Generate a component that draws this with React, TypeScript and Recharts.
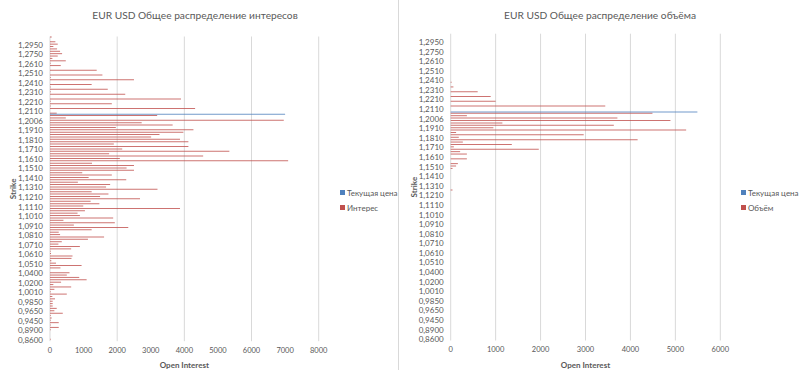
import React from "react";
import { Bar, BarChart, CartesianGrid, Legend, XAxis, YAxis } from "recharts";

// strikes from bottom (0,8600) to top; every 4th one is labelled
const strikes = [
  "0,8600", "0,8700", "0,8750", "0,8800",
  "0,8900", "0,9000", "0,9150", "0,9300",
  "0,9450", "0,9500", "0,9550", "0,9600",
  "0,9650", "0,9700", "0,9750", "0,9800",
  "0,9850", "0,9900", "0,9950", "1,0000",
  "1,0010", "1,0050", "1,0100", "1,0150",
  "1,0200", "1,0250", "1,0300", "1,0350",
  "1,0400", "1,0450", "1,0475", "1,0500",
  "1,0510", "1,0535", "1,0560", "1,0585",
  "1,0610", "1,0635", "1,0660", "1,0685",
  "1,0710", "1,0735", "1,0760", "1,0785",
  "1,0810", "1,0835", "1,0860", "1,0885",
  "1,0910", "1,0935", "1,0960", "1,0985",
  "1,1010", "1,1035", "1,1060", "1,1085",
  "1,1110", "1,1135", "1,1160", "1,1185",
  "1,1210", "1,1235", "1,1260", "1,1285",
  "1,1310", "1,1335", "1,1360", "1,1385",
  "1,1410", "1,1435", "1,1460", "1,1485",
  "1,1510", "1,1535", "1,1560", "1,1585",
  "1,1610", "1,1635", "1,1660", "1,1685",
  "1,1710", "1,1735", "1,1760", "1,1785",
  "1,1810", "1,1835", "1,1860", "1,1885",
  "1,1910", "1,1935", "1,1960", "1,1985",
  "1,2006", "1,2030", "1,2060", "1,2085",
  "1,2110", "1,2135", "1,2160", "1,2185",
  "1,2210", "1,2235", "1,2260", "1,2285",
  "1,2310", "1,2335", "1,2360", "1,2385",
  "1,2410", "1,2435", "1,2460", "1,2485",
  "1,2510", "1,2535", "1,2560", "1,2585",
  "1,2610", "1,2645", "1,2680", "1,2715",
  "1,2750", "1,2800", "1,2850", "1,2900",
  "1,2950", "1,3000", "1,3050", "1,3100",
];

const openInterest = [
  20, 0, 0, 0, 20, 260, 20, 260,
  20, 50, 20, 380, 130, 200, 80, 80,
  80, 150, 70, 500, 20, 130, 630, 100,
  330, 1090, 870, 500, 580, 0, 310, 940,
  180, 40, 640, 670, 30, 20, 630, 890,
  250, 350, 1130, 1610, 300, 260, 1240, 2330,
  710, 1930, 400, 1880, 890, 820, 1040, 3870,
  990, 1470, 1210, 2680, 1490, 1740, 1240, 3200,
  1670, 1790, 830, 2270, 1150, 1840, 960, 2500,
  2280, 2500, 1250, 7090, 2080, 4560, 1760, 5340,
  2150, 4120, 1900, 4120, 3870, 3010, 3260, 3970,
  4270, 1960, 3650, 2730, 6960, 470, 3190, 200,
  0, 4320, 20, 1840, 20, 3900, 0, 2240,
  20, 1720, 20, 1240, 0, 2500, 20, 1560,
  0, 1390, 0, 320, 20, 470, 70, 230,
  360, 300, 210, 100, 230, 160, 0, 50,
];

const volume = [
  0, 0, 0, 0, 0, 0, 0, 0,
  0, 0, 0, 0, 0, 0, 0, 0,
  0, 0, 0, 0, 0, 0, 0, 0,
  0, 0, 0, 0, 0, 0, 0, 0,
  0, 0, 0, 0, 0, 0, 0, 0,
  0, 0, 0, 0, 0, 0, 0, 0,
  0, 0, 0, 0, 0, 0, 0, 0,
  0, 0, 0, 0, 0, 0, 40, 0,
  0, 0, 0, 0, 0, 0, 0, 40,
  120, 160, 0, 360, 0, 360, 210, 1960,
  70, 1360, 270, 4160, 180, 2960, 120, 5240,
  950, 3630, 1150, 4890, 3710, 360, 4490, 0,
  0, 3440, 0, 1000, 0, 890, 0, 600,
  0, 60, 0, 20, 0, 0, 0, 0,
  0, 0, 0, 0, 0, 0, 0, 0,
  0, 0, 0, 0, 0, 0, 0, 0,
];

// current price marker (blue bar)
const currentStrike = "1,2085";
const currentBarLeft = 7000;
const currentBarRight = 5490;

const ticksLeft = [0, 1000, 2000, 3000, 4000, 5000, 6000, 7000, 8000];
const ticksRight = [0, 1000, 2000, 3000, 4000, 5000, 6000];

const RED = "#C0504D";
const BLUE = "#4F81BD";
const TEXT = "#595959";
const GRID = "#D9D9D9";
const FONT = "Lato, 'Open Sans', sans-serif";

function makeRows(values: number[], current: number) {
  return strikes.map((s, i) => ({
    strike: s,
    value: values[i],
    price: s === currentStrike ? current : 0,
  }));
}

function StrikeLabel({ viewBox, x0 }: any) {
  const y = viewBox.y + viewBox.height / 2;
  return (
    <text
      x={x0}
      y={y}
      transform={`rotate(-90 ${x0} ${y})`}
      textAnchor="middle"
      dominantBaseline="central"
      fontSize={8}
      fontWeight={700}
      fill={TEXT}
      fontFamily={FONT}
    >
      Strike
    </text>
  );
}

function Panel(props: any) {
  const { left, width, title, titleX, valueName, values, current, ticks, margin, yWidth, xHeight, legendPos, strikeX } = props;
  const rows = makeRows(values, current);
  const legendItems = [
    { name: "Текущая цена", color: BLUE },
    { name: valueName, color: RED },
  ];
  return (
    <div style={{ position: "absolute", left, top: 0, width, height: 370 }}>
      <div
        style={{
          position: "absolute",
          left: titleX - 150,
          top: 9,
          width: 300,
          textAlign: "center",
          fontSize: 10.2,
          color: TEXT,
          fontFamily: FONT,
          whiteSpace: "nowrap",
        }}
      >
        {title}
      </div>
      <BarChart
        width={width}
        height={370}
        data={rows}
        layout="vertical"
        margin={margin}
        barCategoryGap={0}
        barGap={0}
        style={{ fontFamily: FONT }}
      >
        <CartesianGrid horizontal={false} stroke={GRID} />
        <XAxis
          type="number"
          domain={[0, ticks[ticks.length - 1]]}
          ticks={ticks}
          axisLine={false}
          tickLine={false}
          tickSize={4}
          height={xHeight}
          tick={{ fontSize: 7.5, fill: TEXT }}
          label={{ value: "Open Interest", position: "insideBottom", offset: 2, fontSize: 8, fontWeight: 700, fill: TEXT }}
        />
        <YAxis
          type="category"
          dataKey="strike"
          reversed
          interval={3}
          width={yWidth}
          axisLine={false}
          tickLine={false}
          tickMargin={1}
          tick={{ fontSize: 8, fill: TEXT }}
          label={<StrikeLabel x0={strikeX} />}
        />
        <Bar dataKey="value" name={valueName} fill={RED} fillOpacity={0.8} isAnimationActive={false} />
        <Bar dataKey="price" name="Текущая цена" fill={BLUE} fillOpacity={0.8} isAnimationActive={false} />
        <Legend
          layout="vertical"
          align="center"
          verticalAlign="middle"
          wrapperStyle={{ left: legendPos.x, top: legendPos.y, width: 70 }}
          content={() => (
            <div>
              {legendItems.map((it) => (
                <div
                  key={it.name}
                  style={{ display: "flex", alignItems: "center", height: 15, fontSize: 8, color: TEXT, fontFamily: FONT, whiteSpace: "nowrap" }}
                >
                  <span style={{ display: "inline-block", width: 5, height: 5, background: it.color, marginRight: 2 }} />
                  {it.name}
                </div>
              ))}
            </div>
          )}
        />
      </BarChart>
    </div>
  );
}

export default function App() {
  return (
    <div style={{ position: "absolute", left: 0, top: 0, width: 800, height: 370, background: "#fff", overflow: "hidden" }}>
      <Panel
        left={0}
        width={398}
        title="EUR USD Общее распределение интересов"
        titleX={195}
        valueName="Интерес"
        values={openInterest}
        current={currentBarLeft}
        ticks={ticksLeft}
        margin={{ top: 36.5, right: 79.3, bottom: 0, left: 0 }}
        yWidth={50}
        xHeight={28.8}
        legendPos={{ x: 340, y: 185 }}
        strikeX={13}
      />
      <div style={{ position: "absolute", left: 398, top: 0, width: 1, height: 370, background: GRID }} />
      <Panel
        left={398}
        width={402}
        title="EUR USD Общее распределение объёма"
        titleX={202}
        valueName="Объём"
        values={volume}
        current={currentBarRight}
        ticks={ticksRight}
        margin={{ top: 33.7, right: 79.7, bottom: 0, left: 0 }}
        yWidth={52.7}
        xHeight={29.5}
        legendPos={{ x: 343, y: 185 }}
        strikeX={16}
      />
    </div>
  );
}
